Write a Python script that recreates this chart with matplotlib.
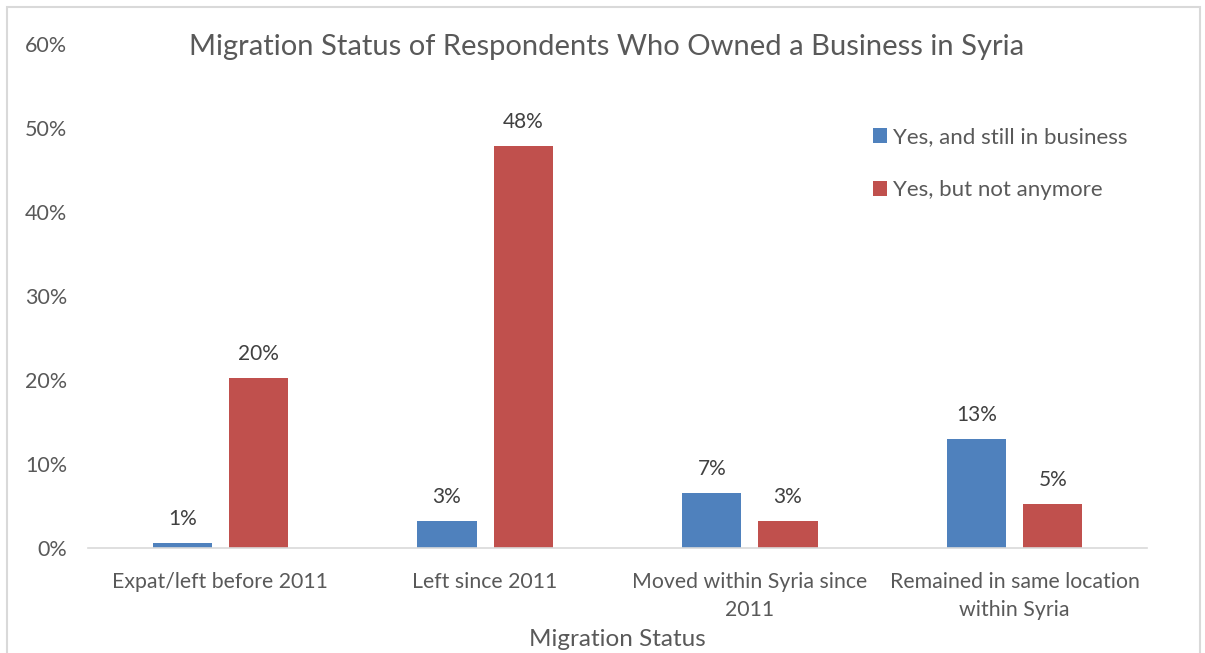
import matplotlib
matplotlib.use("Agg")
import matplotlib.pyplot as plt
import matplotlib.ticker as mtick
import numpy as np
from matplotlib.patches import Rectangle

# ── Data ──────────────────────────────────────────────────────────────────────
categories = [
    "Expat/left before 2011",
    "Left since 2011",
    "Moved within Syria since\n2011",
    "Remained in same location\nwithin Syria",
]
still_in_business = [0.6, 3.2, 6.6, 13.0]   # percent
not_anymore       = [20.2, 47.9, 3.2, 5.2]  # percent
series_names = ["Yes, and still in business", "Yes, but not anymore"]

_BLUE  = "#4F81BD"
_RED   = "#C0504D"
_TEXT  = "#595959"
_LABEL = "#404040"
_LINE  = "#D9D9D9"

plt.rcParams["font.family"] = ["Lato", "DejaVu Sans"]

fig = plt.figure(figsize=(12.05, 6.53), dpi=100)
ax = fig.add_axes([88 / 1205, 1 - 548 / 653, (1147 - 88) / 1205, (548 - 44) / 653])

x = np.arange(len(categories))
width = 0.223
offset = 0.144
b1 = ax.bar(x - offset, still_in_business, width, color=_BLUE, label=series_names[0])
b2 = ax.bar(x + offset, not_anymore, width, color=_RED, label=series_names[1])

for bars in (b1, b2):
    for rect in bars:
        h = rect.get_height()
        ax.annotate(f"{h:.0f}%", (rect.get_x() + rect.get_width() / 2, h),
                    xytext=(0, 10), textcoords="offset points",
                    ha="center", va="bottom", fontsize=15, color=_LABEL)

ax.set_xlim(-0.5, len(categories) - 0.5)
ax.set_ylim(0, 60)
ax.set_yticks(np.arange(0, 61, 10))
ax.yaxis.set_major_formatter(mtick.PercentFormatter(xmax=100, decimals=0))
ax.set_xticks(x)
ax.set_xticklabels(categories, fontsize=15.3, color=_TEXT, linespacing=1.55)
ax.tick_params(axis="y", length=0, pad=15, labelsize=15.5, labelcolor=_TEXT)
ax.tick_params(axis="x", length=0, pad=17)
for side in ("top", "right", "left"):
    ax.spines[side].set_visible(False)
ax.spines["bottom"].set_color(_LINE)
ax.spines["bottom"].set_linewidth(1.2)

fig.text(617 / 1205, 1 - 639 / 653, "Migration Status", ha="center", va="center",
         fontsize=17.5, color=_TEXT)
fig.text(607 / 1205, 1 - 47 / 653,
         "Migration Status of Respondents Who Owned a Business in Syria",
         ha="center", va="center", fontsize=21, color=_TEXT)

ax.legend(loc="upper left", bbox_to_anchor=(853 / 1205, 1 - 107 / 653),
          bbox_transform=fig.transFigure, frameon=False, fontsize=16,
          handlelength=0.65, handleheight=0.65, handletextpad=0.25,
          labelspacing=1.5, labelcolor=_TEXT)

# chart border
fig.patches.append(Rectangle((7 / 1205, -0.1), (1200 - 7) / 1205, 1.1 - 7 / 653,
                             transform=fig.transFigure, fill=False,
                             edgecolor=_LINE, linewidth=1.5))

fig.savefig("out.png", dpi=100, facecolor="white")
